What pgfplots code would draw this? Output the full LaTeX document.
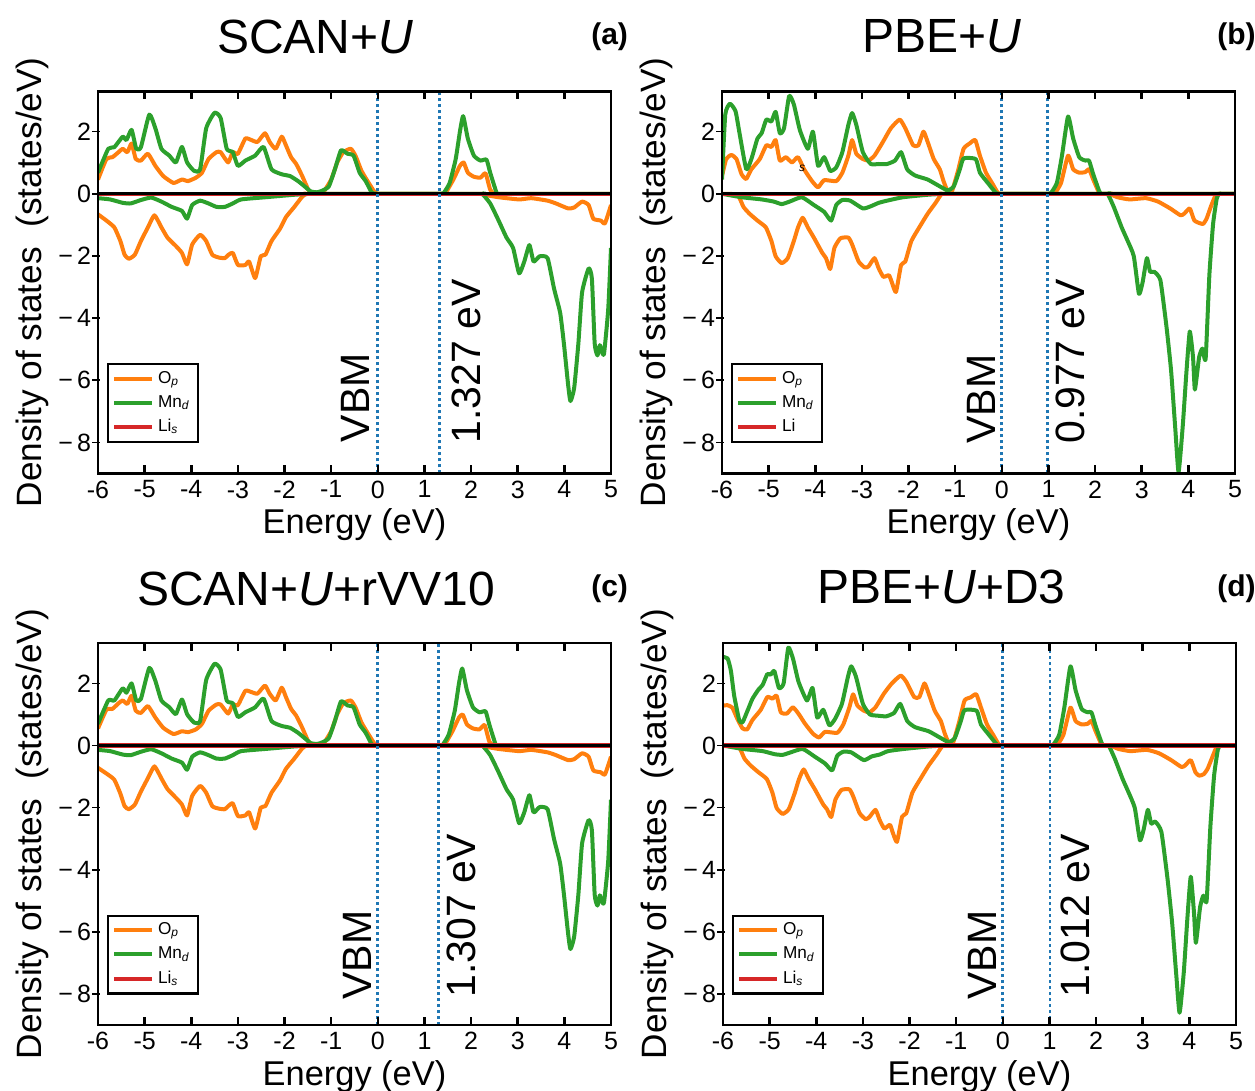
\documentclass[border=0pt]{standalone}
\usepackage{fontspec}
\setmainfont{Liberation Sans}
\usepackage{pgfplots}
\pgfplotsset{compat=1.18}
\usepackage{pgfplotstable}
\definecolor{cO}{HTML}{FF7F0E}
\definecolor{cG}{HTML}{2CA02C}
\definecolor{cR}{HTML}{D62728}
\definecolor{cB}{HTML}{1F77B4}

% ---------------- panel (a) ----------------
\pgfplotstableread{
x y
-6 0.46
-5.82 1.12
-5.69 1.18
-5.56 1.34
-5.47 1.45
-5.37 1.34
-5.28 1.62
-5.19 1.12
-5.08 1.07
-4.93 1.29
-4.77 0.90
-4.60 0.57
-4.38 0.35
-4.20 0.46
-4.07 0.41
-3.90 0.52
-3.77 0.68
-3.63 1.12
-3.46 1.34
-3.37 1.34
-3.21 1.01
-3.11 1.34
-3.00 1.29
-2.84 1.78
-2.71 1.73
-2.58 1.67
-2.42 1.95
-2.32 1.67
-2.19 1.45
-2.06 1.84
-1.97 1.56
-1.86 1.18
-1.75 0.96
-1.62 0.57
-1.49 0.13
-1.40 0
-1.25 0
-1.18 0.02
-1.00 0.46
-0.87 1.01
-0.74 1.34
-0.58 1.45
-0.48 1.23
-0.35 0.74
-0.22 0.41
-0.08 0.08
0 0
0.1 0
1.32 0
1.40 0
1.45 0.02
1.62 0.46
1.76 0.90
1.84 1.01
1.93 0.68
2.06 0.55
2.20 0.52
2.31 0.66
2.41 0.13
2.50 0
2.60 0
5 0
}\OupA
\pgfplotstableread{
x y
-6 -0.66
-5.82 -0.86
-5.65 -1.08
-5.52 -1.52
-5.43 -1.96
-5.34 -2.09
-5.21 -1.96
-5.08 -1.52
-4.93 -1.08
-4.79 -0.69
-4.64 -1.08
-4.51 -1.41
-4.33 -1.68
-4.20 -1.90
-4.09 -2.27
-3.98 -1.63
-3.81 -1.32
-3.68 -1.52
-3.55 -1.96
-3.41 -2.05
-3.28 -2.07
-3.20 -1.96
-3.11 -1.90
-3.00 -2.29
-2.84 -2.29
-2.76 -2.18
-2.63 -2.71
-2.51 -2.01
-2.41 -1.96
-2.28 -1.52
-2.10 -1.13
-1.97 -0.75
-1.79 -0.42
-1.62 -0.09
-1.53 0
-1.43 0
2.12 0
2.20 0
2.28 -0.03
2.59 -0.11
3.03 -0.18
3.29 -0.14
3.64 -0.22
3.82 -0.31
4.08 -0.47
4.21 -0.44
4.38 -0.25
4.52 -0.36
4.62 -0.80
4.78 -0.86
4.87 -0.95
5.00 -0.36
}\OdnA
\pgfplotstableread{
x y
-6 0.68
-5.78 1.45
-5.65 1.50
-5.47 1.84
-5.39 1.73
-5.28 2.06
-5.18 1.45
-5.08 1.50
-4.90 2.55
-4.77 2.11
-4.64 1.45
-4.47 1.23
-4.33 1.01
-4.20 1.51
-4.09 1.01
-3.94 0.74
-3.81 0.79
-3.68 2.11
-3.50 2.61
-3.37 2.44
-3.24 1.45
-3.11 1.34
-3.00 0.90
-2.84 1.07
-2.63 1.23
-2.45 1.51
-2.28 0.79
-2.06 0.63
-1.88 0.57
-1.71 0.41
-1.57 0.24
-1.44 0.08
-1.30 0.05
-1.18 0.11
-1.05 0.24
-0.92 0.79
-0.79 1.40
-0.65 1.29
-0.52 1.23
-0.39 0.68
-0.26 0.41
-0.13 0.04
-0.04 0
0.06 0
1.27 0
1.35 0
1.41 0.02
1.54 0.35
1.67 1.12
1.76 2.00
1.83 2.50
1.93 1.78
2.06 1.23
2.20 1.07
2.33 1.10
2.41 0.68
2.55 0.02
2.62 0
2.72 0
5 0
}\GupA
\pgfplotstableread{
x y
-6 -0.14
-5.74 -0.18
-5.47 -0.29
-5.30 -0.31
-5.08 -0.20
-4.86 -0.12
-4.64 -0.25
-4.42 -0.42
-4.20 -0.55
-4.09 -0.80
-3.98 -0.36
-3.81 -0.22
-3.63 -0.31
-3.46 -0.42
-3.28 -0.42
-3.11 -0.31
-2.93 -0.18
-2.41 -0.11
-1.79 -0.03
-1.44 0
-1.34 0
2.16 0
2.24 0
2.41 -0.31
2.59 -0.86
2.76 -1.41
2.90 -1.74
3.03 -2.56
3.14 -2.18
3.25 -1.65
3.34 -2.18
3.47 -2.01
3.64 -2.07
3.78 -3.06
3.91 -3.83
3.99 -4.82
4.08 -6.14
4.13 -6.67
4.21 -6.25
4.30 -4.82
4.38 -3.17
4.52 -2.40
4.59 -2.73
4.65 -4.82
4.71 -5.20
4.76 -4.87
4.80 -5.05
4.85 -5.15
4.94 -3.72
5.00 -1.74
}\GdnA

% ---------------- panel (b) ----------------
\pgfplotstableread{
x y
-6 0.57
-5.91 1.12
-5.80 1.25
-5.69 1.12
-5.58 0.63
-5.48 0.48
-5.37 0.79
-5.19 1.12
-5.05 1.56
-4.94 1.51
-4.85 1.73
-4.76 1.07
-4.63 1.18
-4.50 1.01
-4.37 1.18
-4.24 0.79
-4.07 0.41
-3.94 0.21
-3.81 0.44
-3.55 0.41
-3.42 0.68
-3.29 1.23
-3.21 1.73
-3.12 1.29
-2.98 1.12
-2.86 1.07
-2.73 1.23
-2.55 1.67
-2.38 2.11
-2.19 2.39
-2.07 2.11
-1.90 1.56
-1.79 1.56
-1.68 2.00
-1.59 1.67
-1.46 1.12
-1.33 0.79
-1.25 0.41
-1.16 0.08
-1.07 0.08
-0.94 0.74
-0.82 1.45
-0.69 1.62
-0.57 1.73
-0.47 1.23
-0.34 0.68
-0.21 0.35
-0.08 0.02
0 0
0.1 0
1.02 0
1.10 0
1.14 0.02
1.27 0.35
1.42 1.23
1.53 0.79
1.66 0.68
1.79 0.70
1.87 0.79
1.96 0.46
2.09 0.02
2.15 0
2.25 0
5 0
}\OupB
\pgfplotstableread{
x y
-6 0
-5.67 -0.03
-5.54 -0.42
-5.41 -0.64
-5.24 -0.86
-5.06 -1.08
-4.94 -1.52
-4.85 -2.01
-4.72 -2.23
-4.59 -2.07
-4.46 -1.52
-4.37 -1.08
-4.27 -0.77
-4.16 -1.08
-4.03 -1.41
-3.85 -1.90
-3.77 -2.07
-3.68 -2.42
-3.59 -1.74
-3.46 -1.43
-3.29 -1.41
-3.21 -1.63
-3.07 -2.18
-2.94 -2.37
-2.86 -2.34
-2.73 -2.07
-2.64 -2.40
-2.54 -2.67
-2.42 -2.62
-2.36 -2.84
-2.27 -3.16
-2.16 -2.29
-2.07 -2.18
-1.94 -1.52
-1.77 -1.08
-1.59 -0.64
-1.42 -0.29
-1.29 0
-1.19 0
2.23 0
2.31 0
2.48 -0.11
2.74 -0.18
3.09 -0.14
3.35 -0.25
3.61 -0.47
3.83 -0.69
3.91 -0.64
4.03 -0.47
4.13 -0.86
4.31 -0.97
4.39 -0.80
4.48 -0.42
4.57 -0.09
4.64 0
4.74 0
5 0
}\OdnB
\pgfplotstableread{
x y
-6 0.46
-5.93 2.55
-5.83 2.90
-5.71 2.66
-5.63 2.00
-5.48 0.79
-5.37 1.12
-5.24 1.78
-5.15 1.95
-5.05 2.39
-4.94 2.33
-4.85 2.64
-4.76 1.95
-4.67 2.11
-4.56 3.15
-4.46 2.88
-4.33 2.05
-4.16 1.45
-4.05 2.00
-3.94 0.90
-3.81 1.18
-3.68 0.74
-3.55 0.85
-3.42 1.34
-3.29 2.22
-3.21 2.60
-3.12 2.22
-2.98 1.34
-2.81 0.96
-2.64 0.96
-2.46 0.96
-2.29 1.07
-2.16 1.34
-2.03 0.79
-1.86 0.59
-1.59 0.46
-1.33 0.24
-1.16 0.11
-1.03 0.24
-0.90 0.79
-0.82 1.14
-0.56 1.12
-0.47 0.68
-0.30 0.35
-0.12 0.02
-0.03 0
0.07 0
0.92 0
1.00 0
1.05 0.02
1.18 0.35
1.29 1.23
1.42 2.49
1.53 1.78
1.66 1.18
1.79 1.07
1.87 1.07
1.96 0.63
2.09 0.08
2.13 0
2.23 0
5 0
}\GupB
\pgfplotstableread{
x y
-6 0
-5.58 -0.11
-5.15 -0.18
-4.89 -0.25
-4.72 -0.33
-4.55 -0.25
-4.29 -0.11
-4.03 -0.36
-3.81 -0.58
-3.66 -0.86
-3.55 -0.36
-3.42 -0.20
-3.25 -0.22
-2.98 -0.47
-2.81 -0.40
-2.64 -0.29
-2.46 -0.22
-2.12 -0.11
-1.59 -0.03
-1.25 0
-1.15 0
2.19 0
2.27 0
2.40 -0.42
2.57 -1.08
2.70 -1.52
2.83 -2.01
2.94 -3.22
3.02 -2.84
3.11 -2.07
3.18 -2.51
3.27 -2.51
3.40 -2.78
3.53 -4.27
3.63 -5.70
3.72 -7.57
3.79 -8.95
3.88 -7.46
3.96 -5.70
4.03 -4.43
4.10 -5.26
4.14 -6.30
4.23 -5.26
4.30 -4.98
4.37 -5.31
4.45 -2.62
4.53 -0.97
4.61 -0.14
4.66 0
4.72 0
5 0
}\GdnB

% ---------------- panel (c) ----------------
\pgfplotstableread{
x y
-6 0.55
-5.82 1.15
-5.69 1.18
-5.56 1.36
-5.47 1.45
-5.37 1.34
-5.28 1.60
-5.19 1.12
-5.08 1.05
-4.93 1.27
-4.77 0.90
-4.60 0.57
-4.38 0.37
-4.20 0.46
-4.07 0.43
-3.90 0.52
-3.77 0.70
-3.63 1.12
-3.46 1.32
-3.37 1.32
-3.21 1.03
-3.11 1.32
-3.00 1.30
-2.84 1.76
-2.71 1.72
-2.58 1.67
-2.42 1.93
-2.32 1.67
-2.19 1.45
-2.06 1.86
-1.97 1.56
-1.86 1.18
-1.75 0.96
-1.62 0.57
-1.49 0.13
-1.40 0
-1.25 0
-1.18 0.02
-1.00 0.46
-0.87 1.01
-0.74 1.36
-0.58 1.45
-0.48 1.23
-0.35 0.74
-0.22 0.41
-0.08 0.08
0 0
0.1 0
1.30 0
1.38 0
1.43 0.02
1.60 0.46
1.74 0.90
1.82 1.00
1.91 0.68
2.04 0.55
2.18 0.52
2.29 0.66
2.39 0.13
2.48 0
2.58 0
5 0
}\OupC
\pgfplotstableread{
x y
-6 -0.72
-5.82 -0.90
-5.65 -1.10
-5.52 -1.55
-5.43 -1.95
-5.34 -2.05
-5.21 -1.90
-5.08 -1.48
-4.93 -1.05
-4.79 -0.67
-4.64 -1.06
-4.51 -1.40
-4.33 -1.68
-4.20 -1.90
-4.09 -2.25
-3.98 -1.62
-3.81 -1.30
-3.68 -1.52
-3.55 -1.95
-3.41 -2.03
-3.28 -2.05
-3.20 -1.94
-3.11 -1.86
-3.00 -2.27
-2.84 -2.25
-2.76 -2.15
-2.63 -2.67
-2.51 -2.00
-2.41 -1.95
-2.28 -1.52
-2.10 -1.13
-1.97 -0.75
-1.79 -0.42
-1.62 -0.09
-1.53 0
-1.43 0
2.12 0
2.20 0
2.28 -0.03
2.59 -0.11
3.03 -0.18
3.29 -0.14
3.64 -0.22
3.82 -0.31
4.08 -0.47
4.21 -0.44
4.38 -0.25
4.52 -0.36
4.62 -0.80
4.78 -0.86
4.87 -0.93
5.00 -0.36
}\OdnC
\pgfplotstableread{
x y
-6 0.70
-5.78 1.45
-5.65 1.45
-5.47 1.84
-5.39 1.70
-5.28 2.00
-5.18 1.45
-5.08 1.50
-4.90 2.50
-4.77 2.08
-4.64 1.45
-4.47 1.23
-4.33 1.01
-4.20 1.48
-4.09 1.01
-3.94 0.74
-3.81 0.79
-3.68 2.11
-3.50 2.63
-3.37 2.44
-3.24 1.45
-3.11 1.36
-3.00 0.92
-2.84 1.07
-2.63 1.23
-2.45 1.51
-2.28 0.79
-2.06 0.63
-1.88 0.57
-1.71 0.41
-1.57 0.24
-1.44 0.08
-1.30 0.05
-1.18 0.11
-1.05 0.24
-0.92 0.79
-0.79 1.42
-0.65 1.29
-0.52 1.23
-0.39 0.68
-0.26 0.41
-0.13 0.04
-0.04 0
0.06 0
1.25 0
1.33 0
1.39 0.02
1.52 0.35
1.65 1.12
1.74 2.00
1.81 2.48
1.91 1.78
2.04 1.23
2.18 1.07
2.31 1.10
2.39 0.68
2.53 0.02
2.60 0
2.70 0
5 0
}\GupC
\pgfplotstableread{
x y
-6 -0.14
-5.74 -0.18
-5.47 -0.29
-5.30 -0.31
-5.08 -0.20
-4.86 -0.12
-4.64 -0.25
-4.42 -0.42
-4.20 -0.55
-4.09 -0.78
-3.98 -0.36
-3.81 -0.22
-3.63 -0.31
-3.46 -0.42
-3.28 -0.42
-3.11 -0.31
-2.93 -0.18
-2.41 -0.11
-1.79 -0.03
-1.44 0
-1.34 0
2.16 0
2.24 0
2.41 -0.31
2.59 -0.86
2.76 -1.41
2.90 -1.74
3.03 -2.50
3.14 -2.15
3.25 -1.60
3.34 -2.15
3.47 -1.98
3.64 -2.05
3.78 -3.02
3.91 -3.80
3.99 -4.78
4.08 -6.05
4.13 -6.55
4.21 -6.15
4.30 -4.80
4.38 -3.15
4.52 -2.40
4.59 -2.73
4.65 -4.80
4.71 -5.15
4.76 -4.82
4.80 -5.00
4.85 -5.05
4.94 -3.72
5.00 -1.74
}\GdnC

% ---------------- panel (d) ----------------
\pgfplotstableread{
x y
-6 1.28
-5.91 1.30
-5.80 1.22
-5.69 0.85
-5.58 0.55
-5.48 0.52
-5.37 0.82
-5.19 1.15
-5.05 1.56
-4.94 1.51
-4.85 1.60
-4.76 1.07
-4.63 1.03
-4.50 1.23
-4.37 1.00
-4.24 0.70
-4.07 0.38
-3.94 0.26
-3.81 0.44
-3.55 0.41
-3.42 0.68
-3.29 1.23
-3.21 1.65
-3.12 1.29
-2.98 1.12
-2.86 1.07
-2.73 1.23
-2.55 1.67
-2.38 2.00
-2.19 2.25
-2.07 2.05
-1.90 1.56
-1.79 1.56
-1.68 2.00
-1.59 1.67
-1.46 1.12
-1.33 0.79
-1.25 0.41
-1.16 0.08
-1.07 0.08
-0.94 0.74
-0.82 1.45
-0.69 1.55
-0.57 1.65
-0.47 1.23
-0.34 0.68
-0.21 0.35
-0.08 0.02
0 0
0.1 0
1.05 0
1.13 0
1.17 0.02
1.30 0.35
1.45 1.22
1.56 0.79
1.69 0.68
1.82 0.70
1.90 0.79
1.99 0.46
2.12 0.02
2.18 0
2.28 0
5 0
}\OupD
\pgfplotstableread{
x y
-6 0
-5.67 -0.03
-5.54 -0.42
-5.41 -0.64
-5.24 -0.86
-5.06 -1.08
-4.94 -1.52
-4.85 -2.01
-4.72 -2.20
-4.59 -2.05
-4.46 -1.52
-4.37 -1.08
-4.27 -0.77
-4.16 -1.08
-4.03 -1.41
-3.85 -1.90
-3.77 -2.05
-3.68 -2.30
-3.59 -1.74
-3.46 -1.43
-3.29 -1.41
-3.21 -1.63
-3.07 -2.18
-2.94 -2.37
-2.86 -2.30
-2.73 -2.07
-2.64 -2.40
-2.54 -2.67
-2.42 -2.55
-2.36 -2.80
-2.27 -3.10
-2.16 -2.29
-2.07 -2.18
-1.94 -1.52
-1.77 -1.08
-1.59 -0.64
-1.42 -0.29
-1.29 0
-1.19 0
2.23 0
2.31 0
2.48 -0.11
2.74 -0.18
3.09 -0.14
3.35 -0.25
3.61 -0.47
3.83 -0.69
3.91 -0.64
4.03 -0.47
4.13 -0.86
4.21 -0.97
4.31 -0.92
4.39 -0.75
4.48 -0.42
4.57 -0.09
4.64 0
4.74 0
5 0
}\OdnD
\pgfplotstableread{
x y
-6 2.85
-5.90 2.80
-5.83 2.40
-5.76 1.60
-5.65 0.80
-5.58 0.75
-5.48 1.10
-5.37 1.50
-5.24 1.80
-5.15 1.95
-5.05 2.30
-4.98 2.28
-4.90 2.40
-4.80 1.85
-4.70 2.00
-4.60 3.15
-4.50 2.80
-4.38 2.05
-4.20 1.45
-4.08 1.85
-3.98 0.90
-3.85 1.15
-3.72 0.65
-3.60 0.85
-3.45 1.34
-3.32 2.22
-3.25 2.55
-3.15 2.22
-3.00 1.34
-2.85 1.00
-2.68 0.96
-2.50 0.94
-2.33 1.05
-2.20 1.34
-2.05 0.79
-1.88 0.59
-1.59 0.46
-1.33 0.24
-1.16 0.11
-1.03 0.24
-0.90 0.79
-0.82 1.14
-0.56 1.12
-0.47 0.68
-0.30 0.35
-0.12 0.02
-0.03 0
0.07 0
0.95 0
1.03 0
1.08 0.02
1.21 0.35
1.32 1.23
1.45 2.55
1.56 1.78
1.69 1.18
1.82 1.07
1.90 1.07
1.99 0.63
2.12 0.08
2.16 0
2.26 0
5 0
}\GupD
\pgfplotstableread{
x y
-6 0
-5.58 -0.11
-5.15 -0.18
-4.89 -0.28
-4.72 -0.30
-4.55 -0.22
-4.29 -0.11
-4.03 -0.36
-3.81 -0.58
-3.66 -0.80
-3.55 -0.33
-3.42 -0.20
-3.25 -0.22
-2.98 -0.47
-2.81 -0.35
-2.64 -0.29
-2.46 -0.18
-2.12 -0.11
-1.59 -0.03
-1.25 0
-1.15 0
2.19 0
2.27 0
2.40 -0.42
2.57 -1.08
2.70 -1.52
2.83 -2.01
2.94 -3.05
3.02 -2.70
3.11 -2.07
3.18 -2.51
3.27 -2.45
3.40 -2.78
3.53 -4.27
3.63 -5.70
3.72 -7.40
3.79 -8.60
3.88 -7.30
3.96 -5.50
4.03 -4.22
4.10 -5.40
4.14 -6.35
4.23 -5.20
4.30 -4.83
4.37 -5.00
4.45 -2.62
4.53 -0.97
4.61 -0.14
4.66 0
4.72 0
5 0
}\GdnD

\pgfplotsset{
  dos/.style={
    scale only axis, width=256.5pt, height=191.1pt,
    xmin=-6, xmax=5, ymin=-9, ymax=3.3,
    axis on top,
    axis line style={line width=1.3pt},
    tick align=inside, major tick length=4pt,
    xtick={-6,-5,-4,-3,-2,-1,0,1,2,3,4,5},
    xticklabels={-6,-5,-4,-3,-2,-1,0,1,2,3,4,5},
    ytick={-8,-6,-4,-2,0,2},
    yticklabels={−\,8,−\,6,−\,4,−\,2,0,2},
    ytick pos=left,
    x tick style={line width=1.3pt,black},
    y tick style={line width=0.8pt,black,xshift=-2.8pt},
    tick label style={font=\fontsize{12.5}{13}\selectfont},
    xlabel={Energy (eV)},
    ylabel={Density of states\ \ (states/eV)},
    every axis x label/.style={at={(axis description cs:0.5,-0.158)}, anchor=base, font=\fontsize{17.2}{18}\selectfont},
    every axis y label/.style={at={(axis description cs:-0.127,0.5)}, rotate=90, anchor=center, font=\fontsize{17.6}{18}\selectfont},
    legend style={at={(axis description cs:0.0175,0.08)}, anchor=south west, draw=black, line width=1.1pt, fill=white,
      inner xsep=2pt, inner ysep=1.5pt, font=\fontsize{8.6}{9.5}\selectfont, row sep=0.6pt},
    legend cell align=left,
    legend image code/.code={\draw[##1] (0pt,0pt) -- (19pt,0pt);},
  },
  up/.style={line width=2pt, line join=round, smooth, tension=0.3},
  zl/.style={black, line width=1.45pt, forget plot},
  li/.style={cR, line width=0.55pt, forget plot},
  gap/.style={cB, line width=1.4pt, dash pattern=on 1.5pt off 1.5pt, forget plot},
}
\tikzset{big/.style={rotate=90, inner sep=0pt, font=\fontsize{20.5}{21}\selectfont}}

\begin{document}
\begin{tikzpicture}
\useasboundingbox (0,0) rectangle (627.5pt,545.5pt);

% ---------- (a) ----------
\begin{axis}[dos, at={(49pt,308.75pt)}, anchor=south west]
\addplot[cO, up] table {\OupA}; \addlegendentry{O\textsubscript{\itshape p}}
\addplot[cO, up, forget plot] table {\OdnA};
\addplot[cG, up] table {\GupA}; \addlegendentry{Mn\textsubscript{\itshape d}}
\addplot[cG, up, forget plot] table {\GdnA};
\addplot[li] coordinates {(-6,0.052) (5,0.052)};
\addplot[li] coordinates {(-6,-0.052) (5,-0.052)};
\addplot[zl] coordinates {(-6,0) (5,0)};
\addplot[gap] coordinates {(0,-9) (0,3.3)};
\addplot[gap] coordinates {(1.327,-9) (1.327,3.3)};
\addlegendimage{cR, line width=2pt} \addlegendentry{Li\textsubscript{\itshape s}}
\node[big, anchor=south west] at (axis cs:-0.16,-8.0) {VBM};
\node[big, anchor=north west] at (axis cs:1.57,-8.05) {1.327 eV};
\end{axis}

% ---------- (b) ----------
\begin{axis}[dos, at={(361pt,308.75pt)}, anchor=south west]
\addplot[cO, up] table {\OupB}; \addlegendentry{O\textsubscript{\itshape p}}
\addplot[cO, up, forget plot] table {\OdnB};
\addplot[cG, up] table {\GupB}; \addlegendentry{Mn\textsubscript{\itshape d}}
\addplot[cG, up, forget plot] table {\GdnB};
\addplot[li] coordinates {(-6,0.052) (5,0.052)};
\addplot[li] coordinates {(-6,-0.052) (5,-0.052)};
\addplot[zl] coordinates {(-6,0) (5,0)};
\addplot[gap] coordinates {(0,-9) (0,3.3)};
\addplot[gap] coordinates {(0.977,-9) (0.977,3.3)};
\addlegendimage{cR, line width=2pt} \addlegendentry{Li}
\node[font=\fontsize{6}{6}\selectfont\itshape] at (axis cs:-4.28,0.82) {s};
\node[big, anchor=south west] at (axis cs:-0.12,-8.05) {VBM};
\node[big, anchor=north west] at (axis cs:1.14,-8.05) {0.977 eV};
\end{axis}

% ---------- (c) ----------
\begin{axis}[dos, at={(49pt,32.9pt)}, anchor=south west]
\addplot[cO, up] table {\OupC}; \addlegendentry{O\textsubscript{\itshape p}}
\addplot[cO, up, forget plot] table {\OdnC};
\addplot[cG, up] table {\GupC}; \addlegendentry{Mn\textsubscript{\itshape d}}
\addplot[cG, up, forget plot] table {\GdnC};
\addplot[li] coordinates {(-6,0.052) (5,0.052)};
\addplot[li] coordinates {(-6,-0.052) (5,-0.052)};
\addplot[zl] coordinates {(-6,0) (5,0)};
\addplot[gap] coordinates {(0,-9) (0,3.3)};
\addplot[gap] coordinates {(1.307,-9) (1.307,3.3)};
\addlegendimage{cR, line width=2pt} \addlegendentry{Li\textsubscript{\itshape s}}
\node[big, anchor=south west] at (axis cs:-0.12,-8.19) {VBM};
\node[big, anchor=north west] at (axis cs:1.48,-8.13) {1.307 eV};
\end{axis}

% ---------- (d) ----------
\begin{axis}[dos, at={(361.5pt,32.9pt)}, anchor=south west]
\addplot[cO, up] table {\OupD}; \addlegendentry{O\textsubscript{\itshape p}}
\addplot[cO, up, forget plot] table {\OdnD};
\addplot[cG, up] table {\GupD}; \addlegendentry{Mn\textsubscript{\itshape d}}
\addplot[cG, up, forget plot] table {\GdnD};
\addplot[li] coordinates {(-6,0.052) (5,0.052)};
\addplot[li] coordinates {(-6,-0.052) (5,-0.052)};
\addplot[zl] coordinates {(-6,0) (5,0)};
\addplot[gap] coordinates {(0,-9) (0,3.3)};
\addplot[gap] coordinates {(1.012,-9) (1.012,3.3)};
\addlegendimage{cR, line width=2pt} \addlegendentry{Li\textsubscript{\itshape s}}
\node[big, anchor=south west] at (axis cs:-0.135,-8.19) {VBM};
\node[big, anchor=north west] at (axis cs:1.23,-8.13) {1.012 eV};
\end{axis}

% titles and panel letters
\node[anchor=base, font=\fontsize{24}{26}\selectfont] at (157.6pt,518.8pt) {SCAN+\textit{U}};
\node[anchor=base, font=\fontsize{15}{16}\selectfont\bfseries] at (304.8pt,523pt) {(a)};
\node[anchor=base, font=\fontsize{24}{26}\selectfont] at (471pt,519.3pt) {PBE+\textit{U}};
\node[anchor=base west, inner sep=0pt, font=\fontsize{15}{16}\selectfont\bfseries] at (608.5pt,523pt) {(b)};
\node[anchor=base, font=\fontsize{24}{26}\selectfont] at (158pt,242.9pt) {SCAN+\textit{U}+rVV10};
\node[anchor=base, font=\fontsize{15}{16}\selectfont\bfseries] at (304.8pt,247.2pt) {(c)};
\node[anchor=base, font=\fontsize{24}{26}\selectfont] at (470.75pt,243.7pt) {PBE+\textit{U}+D3};
\node[anchor=base west, inner sep=0pt, font=\fontsize{15}{16}\selectfont\bfseries] at (608.5pt,247.2pt) {(d)};
\end{tikzpicture}
\end{document}
